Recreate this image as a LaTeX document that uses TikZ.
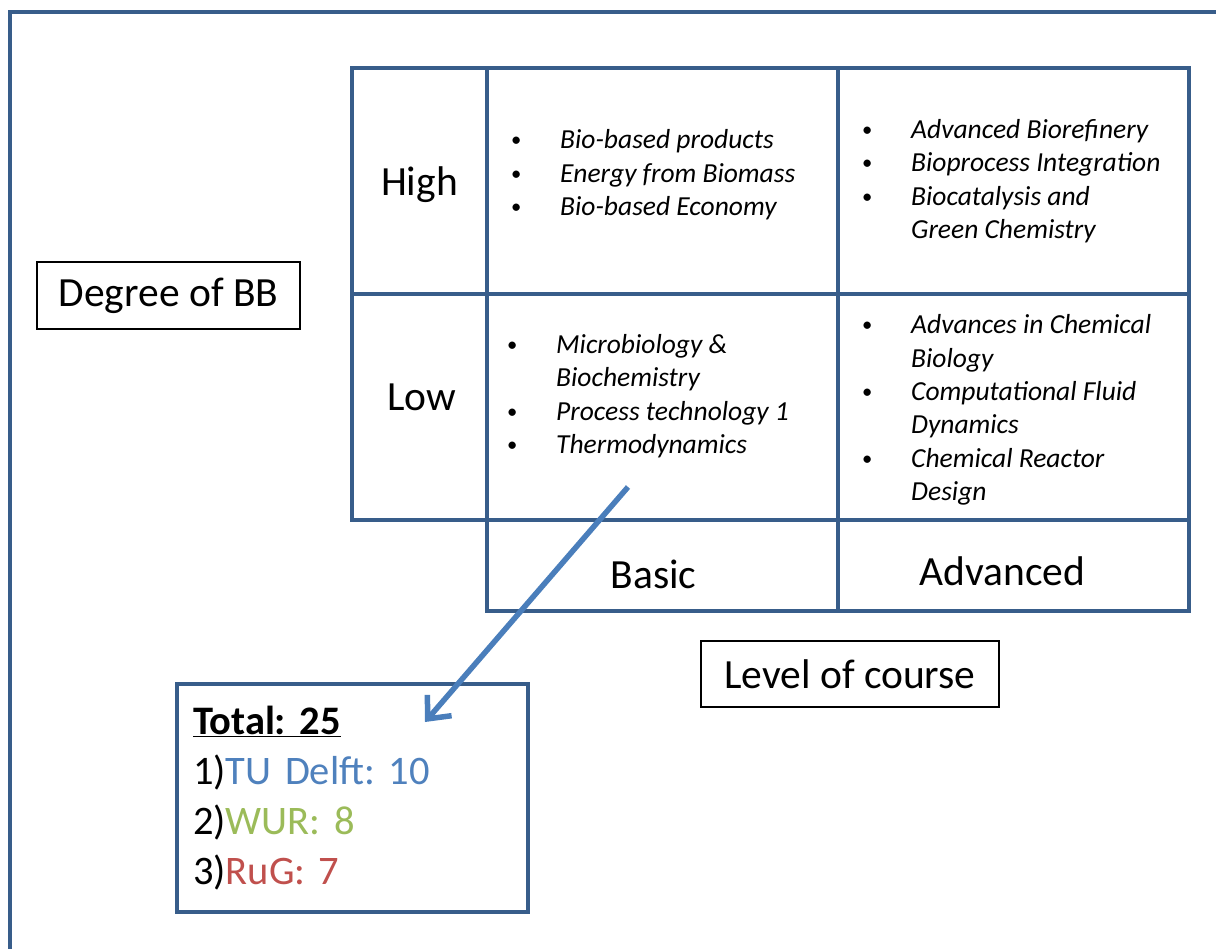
\documentclass[tikz,border=0pt]{standalone}
\usepackage{fontspec}
\setmainfont{Carlito}
\usetikzlibrary{arrows.meta,positioning}

\definecolor{ramka}{HTML}{385D8A}
\definecolor{strzalka}{HTML}{4A7EBB}
\definecolor{tud}{HTML}{4F81BD}
\definecolor{wur}{HTML}{9BBB59}
\definecolor{rug}{HTML}{C0504D}

% one bullet line and one continued line of a list
\newcommand{\pkt}[1]{\makebox[49pt][l]{\raisebox{2pt}{\scalebox{0.75}{\textbullet}}}\textit{#1}}
\newcommand{\dalej}[1]{\hspace*{49pt}\textit{#1}}

\begin{document}
\frenchspacing
\begin{tikzpicture}[x=1pt,y=-1pt,
  cellbox/.style={
  % The shape:
  rectangle,
  % The size:
  minimum width=351pt,
  minimum height=226pt,
  % The border:
  draw=ramka,
  line width=4.5pt,
  outer sep=0pt
  },
  celltext/.style={
  % Font
  font=\fontsize{41.5}{49}\selectfont
  },
  itemlist/.style={
  align=left,
  inner sep=0pt,
  anchor=west,
  font=\fontsize{27.5}{33.4}\selectfont
  },
  labelbox/.style={
  % The shape:
  rectangle,
  % The border:
  draw=black,
  line width=1.2pt,
  % Font
  font=\fontsize{41.5}{49}\selectfont
  }]
  \useasboundingbox (0,0) rectangle (1216,949);
  \clip (0,0) rectangle (1216,949);

  % frame of the slide
  \draw[ramka,line width=4.5pt] (10,970) -- (10,12) -- (1240,12);

  \node (high) [cellbox,minimum width=135pt] at (419.5,181) {};
  \node (hb) [cellbox,right=0pt of high] {};
  \node (ha) [cellbox,right=0pt of hb] {};
  \node (low) [cellbox,minimum width=135pt,below=0pt of high] {};
  \node (lb) [cellbox,below=0pt of hb] {};
  \node (la) [cellbox,below=0pt of ha] {};
  \node (basic) [cellbox,minimum height=91pt,below=0pt of lb] {};
  \node (adv) [cellbox,minimum height=91pt,below=0pt of la] {};

  \node (hight) [celltext] at ([yshift=-4pt]high.center) {High};
  \node (lowt) [celltext] at ([xshift=2pt,yshift=10pt]low.center) {Low};
  \node (basict) [celltext] at ([xshift=-9pt,yshift=-9pt]basic.center) {Basic};
  \node (advt) [celltext] at ([xshift=-11pt,yshift=-6pt]adv.center) {Advanced};

  \node (hbl) [itemlist] at ([xshift=24pt,yshift=6pt]hb.west)
    {\pkt{Bio-based products}\\ \pkt{Energy from Biomass}\\ \pkt{Bio-based Economy}};
  \node (hal) [itemlist] at ([xshift=24pt]ha.west)
    {\pkt{Advanced Biorefinery}\\ \pkt{Bioprocess Integration}\\ \pkt{Biocatalysis and}\\ \dalej{Green Chemistry}};
  \node (lbl) [itemlist] at ([xshift=20pt,yshift=11pt]lb.west)
    {\pkt{Microbiology \&}\\ \dalej{Biochemistry}\\ \pkt{Process technology 1}\\ \pkt{Thermodynamics}};
  \node (lal) [itemlist] at ([xshift=24pt,yshift=-3pt]la.west)
    {\pkt{Advances in Chemical}\\ \dalej{Biology}\\ \pkt{Computational Fluid}\\ \dalej{Dynamics}\\ \pkt{Chemical Reactor}\\ \dalej{Design}};

  \node (degree) [labelbox,minimum width=263pt,minimum height=67pt] at (168.5,295.5) {Degree of BB};
  \node (level) [labelbox,minimum width=298pt,minimum height=66pt] at (850,674) {Level of course};

  \node (total) [draw=ramka,line width=4.5pt,minimum height=228pt,text width=319pt,
    inner xsep=16pt,align=left,font=\fontsize{40.5}{50}\selectfont] at (352.5,798)
    {\underline{\textbf{Total: 25}}\\
     1)\textcolor{tud}{TU Delft: 10}\\
     2)\textcolor{wur}{WUR: 8}\\
     3)\textcolor{rug}{RuG: 7}};

  \coordinate (tail) at (628,487);
  \coordinate (head) at (425,722);
  \draw[strzalka,line width=5.5pt,-{Straight Barb[length=18pt,width=32pt]}] (tail) to (head);
\end{tikzpicture}
\end{document}
